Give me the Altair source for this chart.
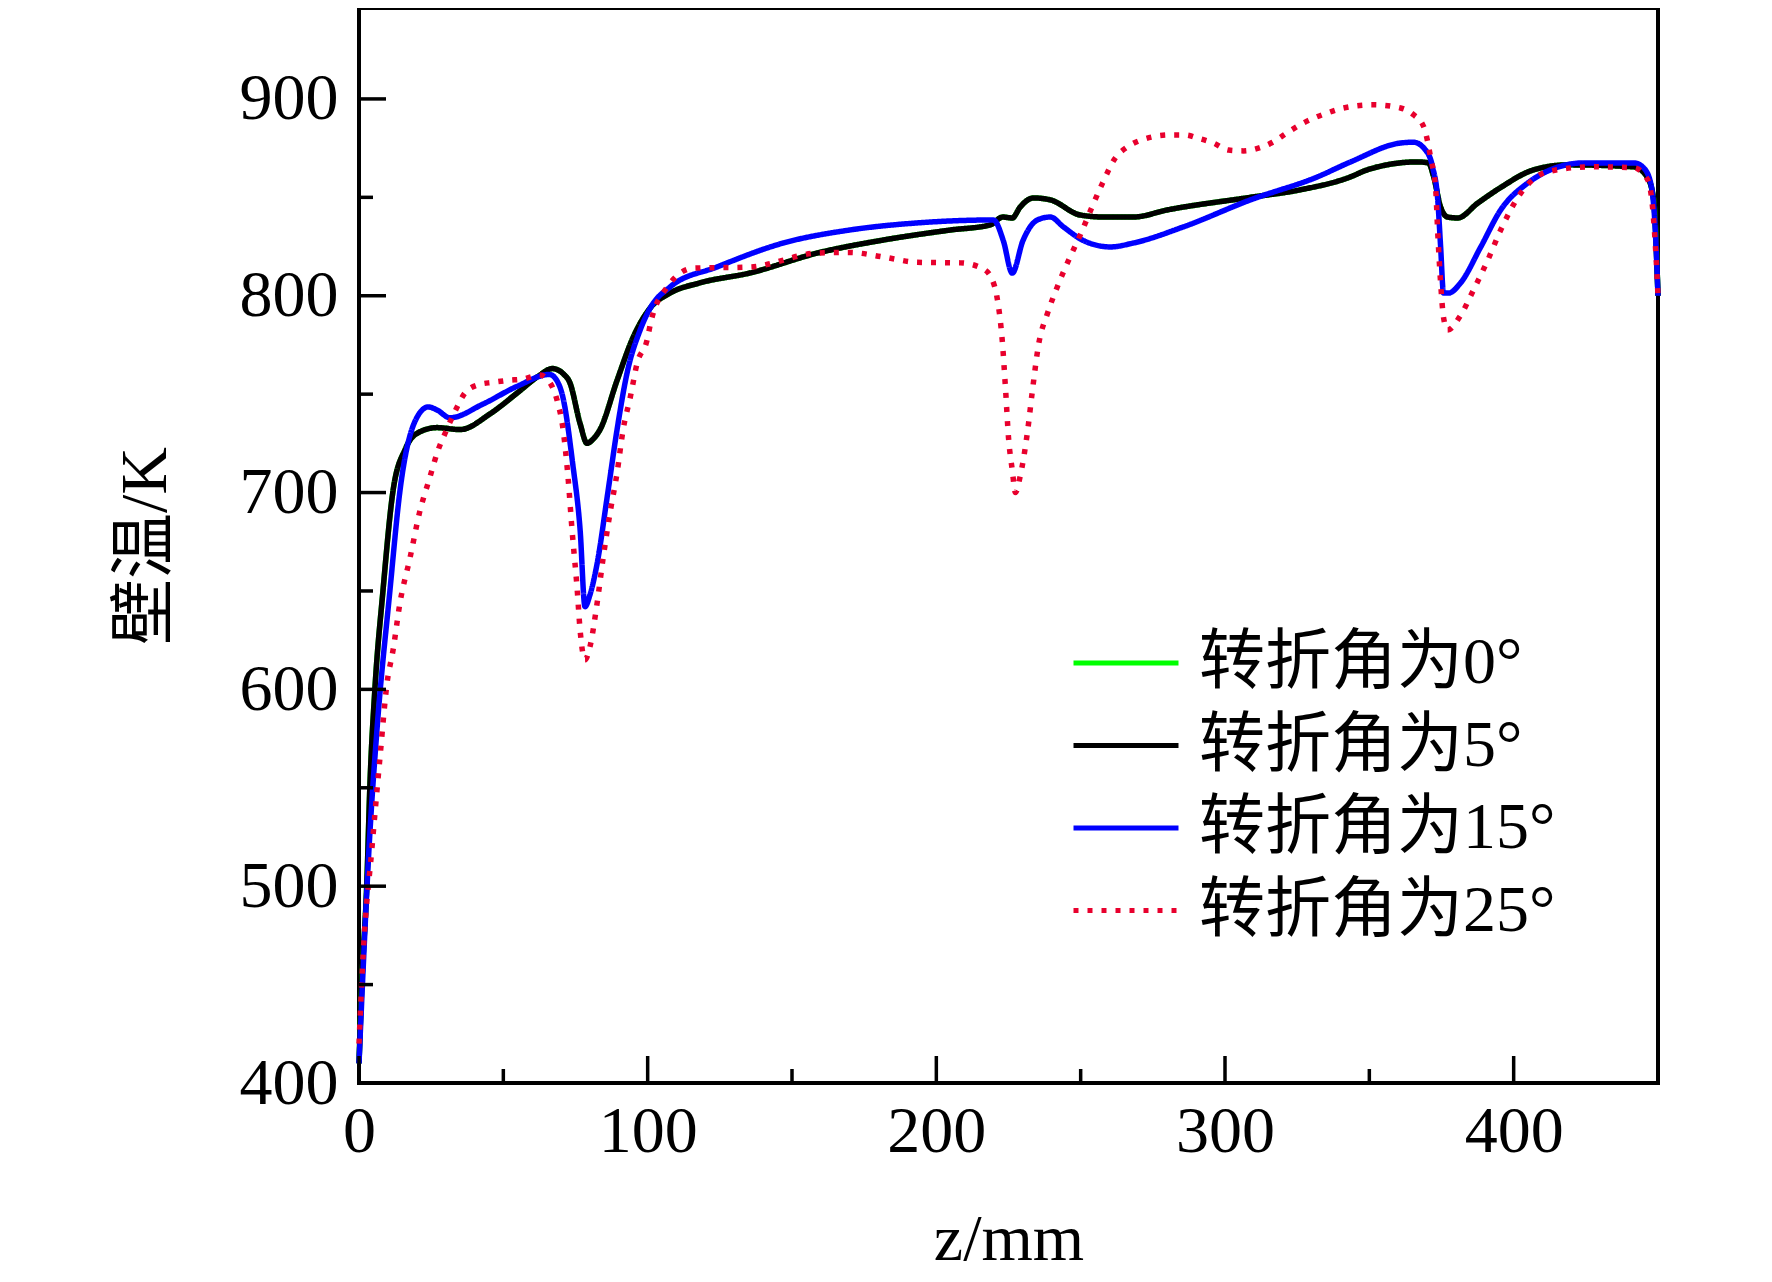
import altair as alt
import pandas as pd

# ---------------- data ----------------
series_names = ["转折角为0°", "转折角为5°", "转折角为15°", "转折角为25°"]
series_colors = ["#00FF00", "#000000", "#0000FF", "#E8002D"]
series_dash = [[1, 0], [1, 0], [1, 0], [5, 9]]

z_5 = [0, 1, 2.7, 3.8, 5.5, 8.3, 11.8, 16, 20, 27, 35, 45.4, 54.8, 62, 67, 71, 73,
       76.6, 79, 81, 83.5, 89.4, 95, 101, 107.8, 118, 135.5, 158.8, 181.6, 204.9,
       218.7, 223, 226.3, 229, 233.6, 239.5, 249.9, 258, 268.3, 280, 308.8, 326,
       343.5, 349.3, 366.7, 370.5, 372.3, 374.7, 377.1, 380.6, 387.5, 395.5, 407,
       418.7, 441.6, 446.4, 448.5, 450]
T_5 = [410, 451, 501, 552, 600, 650, 701, 722, 730, 733, 732, 740, 750.6, 759, 763,
       760, 756, 735, 725, 727, 732, 757, 779, 794, 801.4, 806.5, 811.6, 821.7, 828.3,
       833.4, 836, 840, 839.5, 845, 849.7, 848.7, 841, 840, 840, 843.6, 850, 853.8,
       860.4, 864, 868, 867.5, 860.4, 845, 840, 839.5, 847, 855, 864, 866.5, 865.5,
       860, 848.7, 800]

# 0° curve lies underneath the 5° curve in the reference
z_0 = list(z_5)
T_0 = list(T_5)

z_15 = [0, 1.5, 3.5, 6.2, 10.7, 14.2, 20, 24, 27, 31.5, 43, 54.8, 66, 68.5, 70.7, 74,
        76.6, 78.3, 80, 82.5, 86, 89.4, 92.9, 97.4, 101, 107.8, 124, 147, 170, 193.4,
        219.8, 223.2, 226.3, 230, 235, 239.5, 244, 251, 260.3, 268.3, 285.6, 308.8,
        332, 343.5, 360.8, 365.3, 369.5, 371.9, 373.7, 374.7, 375.7, 377.5, 381.6,
        388.6, 395.5, 404.9, 412.8, 424.3, 441.6, 445, 447.5, 449, 450]
T_15 = [410, 460, 520, 579, 650, 701, 738, 743.5, 742, 738, 745, 754, 760, 757, 748,
        715, 681, 642, 648, 664, 698, 732, 761, 782.6, 794, 804.5, 814.6, 826.8, 833.4,
        837, 838.5, 828, 811.5, 828, 838.5, 840, 835, 828, 824.8, 826.8, 835, 848.7,
        860.4, 868, 877.6, 878, 874, 865.5, 848.7, 824.8, 801.4, 801.4, 806.5, 824.8,
        843.6, 857.3, 864, 867.5, 867.5, 865, 857, 835, 800]

z_25 = [0, 1.5, 4.4, 7.3, 9.7, 11.8, 14.2, 17.7, 21, 24.6, 27.4, 29.8, 34, 36.7, 41.2,
        46.4, 51.6, 56.8, 62.7, 66.2, 68.6, 70.7, 72.4, 73.8, 75.6, 76.6, 78.3, 80,
        82.5, 84.6, 87, 89.4, 91.5, 94, 96.4, 99.8, 101, 106.8, 115.8, 135.5, 158.8,
        170, 181.6, 193.4, 208.3, 216.3, 219.4, 221, 222.9, 224, 225, 226.3, 227.4,
        229, 231.5, 233.3, 235.4, 238.5, 241.9, 245.8, 249.9, 253.9, 257.5, 262, 266.2,
        270.7, 281, 286.2, 290.8, 296, 301.2, 306.4, 311.6, 316.5, 321.7, 327.2, 335.5,
        341, 351.5, 360.8, 365.3, 368.8, 371.2, 373, 373.7, 374.7, 375.7, 377.1, 381.6,
        386.1, 391, 395.5, 402.4, 411.8, 426.7, 441.6, 446.4, 448.2, 449.2, 450]
T_25 = [420, 467, 518, 566, 603, 620, 644, 667, 690, 708, 721.6, 730, 743.5, 750.6,
        754.7, 756, 757, 757.7, 759.7, 755.7, 747, 732, 708, 681, 650.5, 630, 615, 621.6,
        644, 667, 690, 710, 732, 748.6, 766, 777.5, 786, 804.5, 814, 814.6, 821.7, 822,
        819.7, 817, 816.7, 813.6, 808, 799.4, 776, 752, 728, 711.5, 700, 708, 730, 752,
        775, 791, 804.5, 818, 831, 845, 857, 870, 875.6, 879, 881.7, 881.7, 880, 877.6,
        874, 873.6, 875, 878, 883, 887.8, 892.9, 895.4, 897, 895.4, 892, 886, 870.5,
        853.8, 832, 806.5, 789, 782.6, 790, 803, 818, 833.4, 852, 863, 865.5, 865, 859,
        843.6, 823, 800]

x_tick_labels = [0, 100, 200, 300, 400]
y_tick_labels = [400, 500, 600, 700, 800, 900]
x_minor = [50, 150, 250, 350]
y_minor = [450, 550, 650, 750, 850]

# ---------------- chart ----------------
W, H = 1299, 1075
FONT = "'Liberation Serif', 'Noto Sans CJK SC', serif"

series_data = [(series_names[0], z_0, T_0), (series_names[1], z_5, T_5),
               (series_names[2], z_15, T_15), (series_names[3], z_25, T_25)]

xs = alt.Scale(domain=[0, 450], nice=False, zero=False)
ys = alt.Scale(domain=[400, 946.2], nice=False, zero=False)

x_enc = alt.X("z:Q", scale=xs, axis=alt.Axis(
    values=x_tick_labels, title="z/mm", format="d", grid=False, domain=False,
    ticks=False, tickSize=0, labelPadding=16, titlePadding=43, labelFlush=False))
y_enc = alt.Y("T:Q", scale=ys, axis=alt.Axis(
    values=y_tick_labels, title="壁温/K", format="d", grid=False, domain=False,
    ticks=False, tickSize=0, labelPadding=21, titlePadding=60, labelFlush=False))

legend = alt.Legend(orient="none", legendX=734, legendY=622)
color = alt.Color("series:N", scale=alt.Scale(domain=series_names, range=series_colors),
                  legend=legend, title=None)
dash = alt.StrokeDash("series:N", scale=alt.Scale(domain=series_names, range=series_dash),
                      legend=legend, title=None)

layers = []
for name, zs, ts in series_data:
    df = pd.DataFrame({"z": zs, "T": ts, "series": name})
    layers.append(
        alt.Chart(df).mark_line(strokeWidth=5.5, strokeJoin="round",
                                interpolate="monotone").encode(
            x=x_enc, y=y_enc, color=color, strokeDash=dash)
    )

tick_style = dict(color="black", strokeWidth=3.5)
y_major_ticks = alt.Chart(pd.DataFrame({"T": y_tick_labels})).mark_rule(**tick_style).encode(
    y=y_enc, x=alt.value(0), x2=alt.value(27))
y_minor_ticks = alt.Chart(pd.DataFrame({"T": y_minor})).mark_rule(**tick_style).encode(
    y=y_enc, x=alt.value(0), x2=alt.value(14))
x_major_ticks = alt.Chart(pd.DataFrame({"z": x_tick_labels})).mark_rule(**tick_style).encode(
    x=x_enc, y=alt.value(H - 27), y2=alt.value(H))
x_minor_ticks = alt.Chart(pd.DataFrame({"z": x_minor})).mark_rule(**tick_style).encode(
    x=x_enc, y=alt.value(H - 14), y2=alt.value(H))

chart = alt.layer(*layers, y_major_ticks, y_minor_ticks, x_major_ticks, x_minor_ticks).properties(
    width=W, height=H,
    autosize=alt.AutoSizeParams(type="none"),
    padding={"left": 351, "top": 0, "right": 100, "bottom": 190},
    background="white",
).configure_view(
    stroke="black", strokeWidth=4
).configure_axis(
    labelFont=FONT, labelFontSize=66, labelColor="black",
    titleFont=FONT, titleFontSize=66, titleColor="black", titleFontWeight="normal",
).configure_legend(
    labelFont=FONT, labelFontSize=66, labelColor="black", labelLimit=1000,
    symbolType="M-2,0H2", symbolSize=2756, symbolStrokeWidth=5, labelOffset=40,
    rowPadding=16.5, padding=0,
)

chart.save("out.html", embed_options={"renderer": "svg", "actions": False})
